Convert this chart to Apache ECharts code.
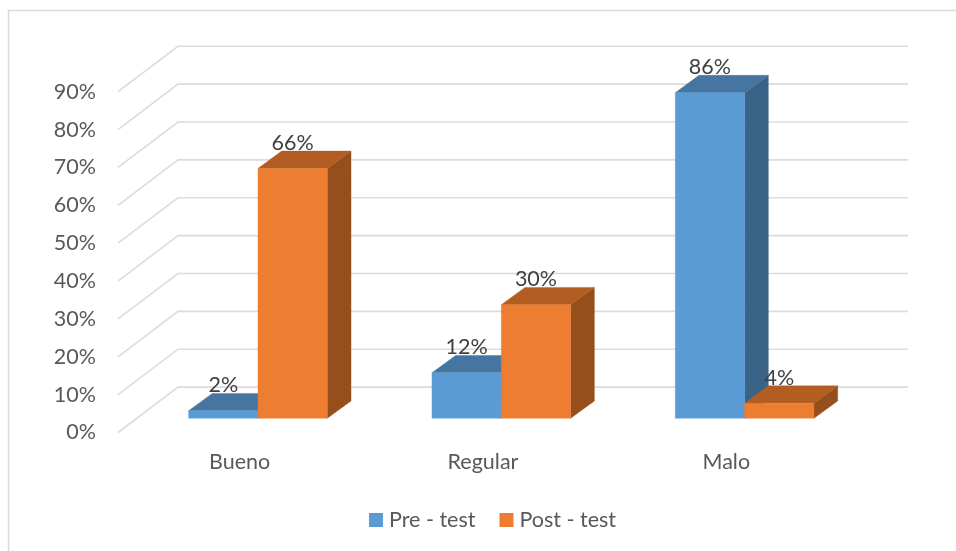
<!DOCTYPE html>
<html>
<head>
<meta charset="utf-8">
<style>html,body{margin:0;padding:0;background:#fff}#c{width:956px;height:551px}</style>
<script src="https://cdn.jsdelivr.net/npm/echarts@6/dist/echarts.min.js"></script>
</head>
<body>
<div id="c"></div>
<script>
const categories = ['Bueno', 'Regular', 'Malo'];
const preTest = [2, 12, 86];
const postTest = [66, 30, 4];
const yTicks = [0, 10, 20, 30, 40, 50, 60, 70, 80, 90];

const FONT = 'Lato';
const WALL = [60, -45.4];
const PLANE = [18.3, -14.2];
const DEPTH = [23.7, -17.3];
const BAR_RATIO = 0.285;

function gridRender(params, api) {
  const r = params.coordSys;
  const y = api.coord([0, api.value(0)])[1];
  return {
    type: 'polyline',
    silent: true,
    shape: { points: [[r.x, y], [r.x + WALL[0], y + WALL[1]], [r.x + r.width + WALL[0], y + WALL[1]]] },
    style: { fill: 'none', stroke: '#dcdcdc', lineWidth: 1.6 }
  };
}

function barRender(side, front, top, right) {
  return function (params, api) {
    const idx = api.value(0), val = api.value(1);
    const w = api.size([1, 0])[0] * BAR_RATIO;
    const c = api.coord([idx, val]), b = api.coord([idx, 0]);
    const cx = c[0] + PLANE[0] + side * w / 2;
    const x0 = cx - w / 2, x1 = cx + w / 2;
    const yT = c[1] + PLANE[1], yB = b[1] + PLANE[1];
    const dx = DEPTH[0], dy = DEPTH[1];
    const poly = (pts, fill) => ({ type: 'polygon', shape: { points: pts }, style: { fill: fill, stroke: fill, lineWidth: 0.4 } });
    return {
      type: 'group',
      children: [
        poly([[x1, yT], [x1 + dx, yT + dy], [x1 + dx, yB + dy], [x1, yB]], right),
        poly([[x0, yT], [x0 + dx, yT + dy], [x1 + dx, yT + dy], [x1, yT]], top),
        poly([[x0, yT], [x1, yT], [x1, yB], [x0, yB]], front),
        {
          type: 'text',
          z2: 10,
          style: {
            text: val + '%', x: cx, y: yT - 25.5, align: 'center', verticalAlign: 'middle',
            fill: '#404040', font: '21.5px ' + FONT
          }
        }
      ]
    };
  };
}

const chart = echarts.init(document.getElementById('c'), null, { renderer: 'canvas' });
chart.setOption({
  animation: false,
  backgroundColor: '#ffffff',
  textStyle: { fontFamily: FONT },
  graphic: [{
    type: 'rect', silent: true, z: -1,
    shape: { x: 8.5, y: 10.5, width: 980, height: 580 },
    style: { fill: 'none', stroke: '#d9d9d9', lineWidth: 1.5 }
  }],
  grid: { left: 118, top: 91.7, width: 730, height: 340.8 },
  legend: {
    data: ['Pre - test', 'Post - test'],
    left: 369, top: 509, padding: 0,
    icon: 'rect', itemWidth: 14, itemHeight: 14, itemGap: 24,
    textStyle: { color: '#595959', fontSize: 21.5, fontFamily: FONT, padding: [0, 0, 0, 1] }
  },
  xAxis: {
    type: 'category', data: categories,
    axisLine: { show: false }, axisTick: { show: false }, splitLine: { show: false },
    axisLabel: { color: '#595959', fontSize: 21.5, fontFamily: FONT, margin: 19 }
  },
  yAxis: {
    type: 'value', min: 0, max: 90, interval: 10,
    axisLine: { show: false }, axisTick: { show: false }, splitLine: { show: false },
    axisLabel: { color: '#595959', fontSize: 21.5, fontFamily: FONT, margin: 22, padding: [3, 0, 0, 0], formatter: '{value}%' }
  },
  series: [
    {
      type: 'custom', name: 'grid3d', silent: true, clip: false, z: 1,
      coordinateSystem: 'cartesian2d',
      encode: { x: 1, y: 0 },
      data: yTicks.map(v => [v, 0]),
      renderItem: gridRender
    },
    {
      type: 'custom', name: 'Pre - test', silent: true, clip: false, z: 2,
      itemStyle: { color: '#5B9BD5' },
      encode: { x: 0, y: 1 },
      data: categories.map((c, i) => [i, preTest[i]]),
      renderItem: barRender(-1, '#5B9BD5', '#4575A0', '#3A6487')
    },
    {
      type: 'custom', name: 'Post - test', silent: true, clip: false, z: 3,
      itemStyle: { color: '#ED7D31' },
      encode: { x: 0, y: 1 },
      data: categories.map((c, i) => [i, postTest[i]]),
      renderItem: barRender(1, '#ED7D31', '#B25D22', '#964F1C')
    }
  ]
});
</script>
</body>
</html>
